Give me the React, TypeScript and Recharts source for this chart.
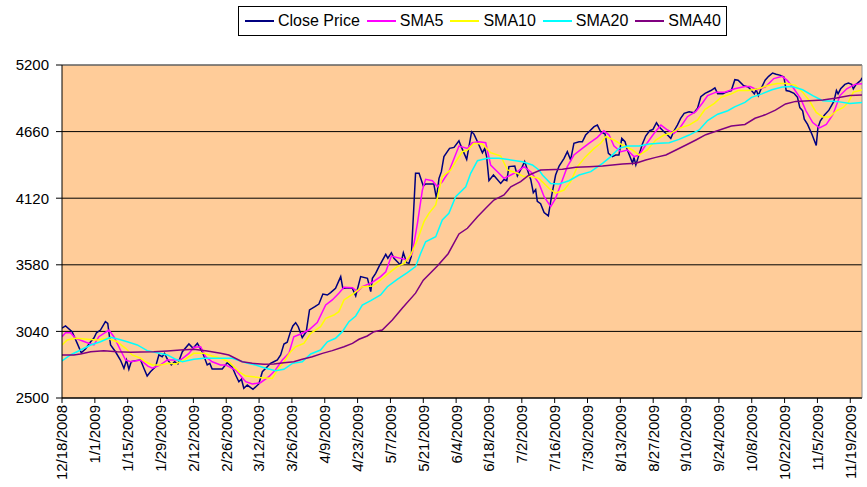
import { LineChart, Line, XAxis, YAxis, CartesianGrid, Legend, ReferenceLine } from 'recharts';

// x = calendar days after 12/18/2008, y = index level
const closePrice: [number, number][] = [
  [0, 3067], [1.5, 3084], [4.3, 3038], [6.5, 2943], [8.2, 2867], [10, 2897], [12.2, 2956], [13.6, 2986],
  [14.7, 3029], [16.4, 3051], [18.5, 3119], [19.5, 3105], [20.7, 2930], [22.8, 2875], [24.9, 2808], [26.4, 2741],
  [27.5, 2808], [28.5, 2733], [29.5, 2794], [31.3, 2803], [33.5, 2808], [34.9, 2741], [36.3, 2678], [37.7, 2713],
  [39.9, 2754], [41.3, 2849], [42.7, 2835], [43.7, 2862], [45.1, 2808], [46.6, 2768], [48, 2794], [49.4, 2776],
  [51.3, 2875], [54.1, 2938], [55.9, 2903], [57.7, 2943], [59.8, 2875], [61.9, 2768], [63, 2781], [64, 2735],
  [68.3, 2735], [70.4, 2786], [72.6, 2749], [74, 2686], [75.4, 2632], [76.5, 2652], [77.5, 2579], [79, 2605],
  [81.4, 2570], [83.9, 2614], [85.4, 2713], [87.5, 2754], [88.9, 2781], [90.3, 2794], [91.8, 2808], [93.2, 2849],
  [94.6, 2938], [96, 2952], [97.4, 3038], [98.4, 3084], [99.6, 3111], [100.7, 3078], [102.4, 2989], [104.1, 3038],
  [105.5, 3214], [107.8, 3240], [109.5, 3262], [111.2, 3343], [113.1, 3335], [114.5, 3354], [116.6, 3389], [118.8, 3484],
  [119.7, 3389], [122.3, 3394], [123.8, 3389], [125.2, 3327], [127.3, 3484], [130.2, 3470], [131.6, 3362], [132.3, 3470],
  [133.7, 3511], [135.1, 3565], [138, 3665], [138.9, 3633], [140.4, 3678], [141.5, 3633], [144.3, 3578], [145.5, 3678],
  [146.9, 3597], [147.9, 3592], [148.9, 3649], [150.7, 4322], [152.2, 4322], [154, 4219], [155, 4235], [158.5, 4235],
  [159.6, 4119], [160.7, 4281], [161.7, 4335], [162.8, 4457], [165.2, 4524], [167.1, 4532], [169.2, 4586], [169.9, 4550],
  [172.5, 4435], [174.6, 4659], [175.6, 4640], [177.3, 4570], [179.2, 4489], [180.2, 4524], [181, 4457], [182, 4262],
  [183.9, 4308], [187, 4240], [188.4, 4272], [189.6, 4262], [190.5, 4376], [193, 4381], [194.1, 4300], [196.2, 4376],
  [197.2, 4418], [198.4, 4349], [199.8, 4272], [200.9, 4165], [201.9, 4190], [202.6, 4095], [204, 4075], [205.5, 4003],
  [207.3, 3976], [208.7, 4138], [210.4, 4308], [211.9, 4381], [214, 4443], [215.4, 4497], [216.8, 4430], [218.2, 4565],
  [220.4, 4578], [221.8, 4578], [223.2, 4632], [224.6, 4659], [226.8, 4700], [228.2, 4713], [229.6, 4659], [231.5, 4640],
  [232.9, 4484], [234.6, 4457], [236, 4470], [237.4, 4470], [238.6, 4605], [240, 4578], [241, 4511], [242, 4462],
  [243.2, 4403], [243.8, 4451], [244.6, 4389], [245.7, 4457], [247.4, 4560], [248.8, 4624], [250.5, 4667], [251.9, 4678],
  [253.4, 4732], [254.5, 4700], [256.2, 4667], [258.1, 4632], [259.5, 4605], [260.9, 4667], [262.3, 4713], [263.7, 4767],
  [265.2, 4808], [267.3, 4821], [269.4, 4813], [270.9, 4849], [272.3, 4943], [274.1, 4970], [276.6, 4993], [278.3, 5015],
  [279.5, 4966], [281.7, 4966], [283.1, 4980], [285.3, 4993], [286.8, 5081], [288.2, 5076], [290.4, 5035], [292.5, 5021],
  [293.9, 4993], [295.1, 4966], [295.9, 4999], [296.8, 4952], [298.3, 5021], [299.7, 5076], [301.2, 5108], [302.9, 5135],
  [304.4, 5125], [306.3, 5116], [307.7, 5103], [308.7, 4993], [310.1, 4987], [312, 4971], [313.5, 4938], [314.5, 4855],
  [315.7, 4829], [316.4, 4760], [317.8, 4718], [319.7, 4636], [321.5, 4548], [322.2, 4690], [323.2, 4746], [325, 4795],
  [326.9, 4834], [329, 4905], [330.1, 4993], [330.8, 4966], [331.9, 5007], [333.7, 5043], [335.2, 5053], [336.6, 5043],
  [337.3, 5007], [338.5, 5043], [340.5, 5076], [341, 5097],
];

const sma5: [number, number][] = [
  [0, 2997], [1.5, 3029], [3.6, 3029], [5.8, 2984], [10.5, 2950], [13.6, 2930], [15.7, 2997], [20, 3051],
  [22.1, 2997], [24.9, 2889], [27.1, 2808], [29.2, 2794], [33.5, 2808], [36.6, 2759], [38.5, 2741], [42, 2768],
  [44.9, 2808], [50.5, 2808], [54.1, 2862], [56.2, 2911], [59.1, 2916], [61.2, 2835], [64, 2794], [67.6, 2768],
  [69.7, 2768], [74, 2727], [78.3, 2632], [81.1, 2614], [84.6, 2624], [88.2, 2673], [91, 2727], [93.9, 2808],
  [96.7, 2862], [98.8, 2997], [101.7, 3019], [105.2, 3051], [108.8, 3111], [112.4, 3254], [115.2, 3295], [118, 3349],
  [120.2, 3398], [123.8, 3394], [125.9, 3362], [128, 3402], [131.6, 3430], [135.8, 3484], [138, 3524], [140.4, 3651],
  [144.3, 3632], [147.2, 3619], [149.3, 3673], [151.5, 3916], [153.6, 4186], [155, 4273], [157.9, 4262], [160, 4213],
  [162.1, 4254], [164.9, 4335], [169.2, 4543], [172.8, 4524], [174.9, 4570], [177.7, 4578], [180.6, 4570], [182.7, 4389],
  [185.6, 4335], [188.4, 4281], [191.3, 4308], [194.1, 4335], [196.9, 4376], [199.8, 4335], [203.3, 4240], [205.5, 4132],
  [208.3, 4052], [210.4, 4119], [213.3, 4268], [215.4, 4376], [218.2, 4470], [221.8, 4524], [224.6, 4565], [228.2, 4613],
  [231, 4667], [233.2, 4632], [235.3, 4543], [238.2, 4497], [241, 4511], [243.8, 4457], [246, 4470], [248.8, 4551],
  [252.4, 4646], [255.3, 4713], [258.1, 4673], [260.9, 4646], [263.7, 4700], [266.6, 4781], [270.2, 4824], [273, 4892],
  [275.2, 4952], [278.8, 4980], [282.4, 4980], [286.7, 5007], [291.1, 5026], [293.3, 5026], [296.1, 4999], [299.7, 5021],
  [303.4, 5090], [307, 5108], [309.1, 5076], [312, 5007], [314.9, 4925], [317.1, 4829], [320, 4733], [322.9, 4690],
  [325.8, 4718], [328.7, 4801], [331.6, 4952], [334.5, 5007], [338, 5043], [341, 5049],
];

const sma10: [number, number][] = [
  [0, 2930], [2.2, 2970], [5.8, 2984], [10.7, 2976], [15, 2970], [19.3, 2984], [23.5, 2956], [27.1, 2903],
  [29.9, 2849], [33.5, 2822], [35.6, 2794], [38.5, 2768], [42, 2768], [45.5, 2781], [48.4, 2776], [51.9, 2808],
  [56.2, 2862], [60.5, 2862], [64, 2841], [67.6, 2822], [71.1, 2794], [75.4, 2713], [78.3, 2678], [83.9, 2667],
  [89.6, 2659], [91.8, 2727], [94.6, 2794], [97.4, 2875], [99.6, 2916], [103.1, 2943], [106, 3024], [110.2, 3078],
  [112.4, 3146], [115.9, 3173], [118, 3200], [120.2, 3295], [124.4, 3349], [128, 3402], [132.3, 3408], [135.8, 3457],
  [140.1, 3524], [142.9, 3565], [145.8, 3592], [148.6, 3659], [151.5, 3781], [154.3, 3930], [156.4, 3997], [159.3, 4065],
  [160.7, 4186], [162.1, 4295], [165.7, 4349], [167.8, 4416], [170.7, 4497], [172.8, 4511], [175.6, 4565], [179.2, 4560],
  [182.7, 4489], [187, 4462], [189.9, 4349], [194.1, 4322], [196.9, 4295], [199.8, 4295], [203.3, 4281], [207.6, 4200],
  [210.4, 4160], [214, 4186], [216.8, 4254], [219.7, 4376], [223.2, 4457], [226.8, 4524], [229.6, 4565], [231.8, 4619],
  [235.3, 4592], [238.9, 4551], [243.2, 4511], [246, 4470], [249.5, 4511], [253.1, 4592], [256.6, 4632], [259.5, 4646],
  [263, 4686], [267.3, 4713], [270.9, 4754], [274.1, 4840], [278.1, 4889], [280.9, 4938], [285.3, 4966], [288.2, 4993],
  [292.5, 4993], [296.8, 5007], [301.2, 5035], [304.8, 5049], [309.1, 5049], [312.7, 5035], [315.7, 4980], [318.6, 4910],
  [321.5, 4815], [324.3, 4778], [327.2, 4778], [330.1, 4829], [333, 4856], [335.2, 4897], [337.3, 4980], [340.2, 4993],
  [341, 5000],
];

const sma20: [number, number][] = [
  [0, 2800], [3.6, 2849], [7.9, 2889], [12.2, 2930], [16.4, 2956], [20.7, 2992], [24.2, 2976], [27.8, 2956],
  [32.1, 2930], [36.3, 2884], [40.6, 2867], [44.9, 2849], [48.4, 2814], [51.3, 2794], [56.2, 2814], [60.5, 2822],
  [67.6, 2822], [72.6, 2822], [78.3, 2786], [82.5, 2768], [86.8, 2741], [91, 2722], [94.6, 2733], [98.2, 2781],
  [102.4, 2794], [106, 2857], [110.2, 2889], [113.1, 2956], [116.6, 2984], [119.5, 3038], [122.3, 3119], [125.2, 3165],
  [128, 3254], [131.6, 3290], [135.8, 3335], [138.7, 3402], [142.9, 3462], [147.2, 3516], [150.7, 3565], [152.9, 3673],
  [155, 3767], [159.3, 3808], [162.1, 3943], [164.9, 3997], [167.8, 4132], [172.1, 4213], [174.2, 4322], [177.1, 4424],
  [181.3, 4443], [186.3, 4443], [191.3, 4430], [196.2, 4416], [200.5, 4389], [203.3, 4349], [204.8, 4308], [208.3, 4240],
  [211.9, 4235], [216.1, 4262], [220.4, 4308], [225.4, 4335], [230.4, 4403], [233.9, 4457], [237.4, 4524], [241, 4543],
  [246, 4543], [250.2, 4560], [254.5, 4565], [258.8, 4570], [263, 4597], [267.3, 4632], [271.6, 4673], [275.2, 4750],
  [279.5, 4801], [283.8, 4829], [286.7, 4861], [291.1, 4897], [293.9, 4938], [298.3, 4966], [302.6, 4999], [307, 5021],
  [311.3, 5026], [315.7, 4999], [320, 4952], [324.3, 4910], [330.1, 4905], [335.9, 4888], [341, 4895],
];

const sma40: [number, number][] = [
  [0, 2849], [5, 2849], [7.9, 2857], [12.2, 2875], [17.8, 2884], [23.5, 2875], [29.2, 2870], [33.5, 2873],
  [39.1, 2875], [44.9, 2881], [50.5, 2889], [56.2, 2895], [61.9, 2881], [67.6, 2862], [71.1, 2849], [76.8, 2794],
  [81.1, 2781], [86.1, 2773], [90.3, 2776], [94.6, 2786], [98.8, 2794], [102.4, 2814], [106.7, 2835], [111, 2862],
  [115.2, 2884], [120.2, 2916], [123.8, 2943], [126.6, 2976], [130.1, 3003], [133, 3038], [136.5, 3051], [140.8, 3132],
  [145.1, 3230], [150.7, 3350], [154, 3455], [160, 3570], [164.6, 3670], [169.2, 3830], [172.8, 3876], [177.1, 3970],
  [180.6, 4038], [184.1, 4105], [188.4, 4146], [191.3, 4213], [195.5, 4254], [199.1, 4308], [204, 4349], [213.3, 4354],
  [219, 4370], [224.6, 4376], [230.4, 4381], [238.9, 4397], [244.6, 4403], [248.8, 4430], [253.1, 4451], [257.4, 4470],
  [261.7, 4511], [266, 4551], [270.2, 4592], [274.4, 4635], [280.9, 4677], [285.3, 4705], [291.1, 4718], [295.4, 4768],
  [299.7, 4796], [304.1, 4834], [308.4, 4884], [312.7, 4905], [318.6, 4910], [324.3, 4916], [330.1, 4932], [335.9, 4952],
  [341, 4957],
];

const tickLabels = [
  '12/18/2008', '1/1/2009', '1/15/2009', '1/29/2009', '2/12/2009', '2/26/2009', '3/12/2009', '3/26/2009',
  '4/9/2009', '4/23/2009', '5/7/2009', '5/21/2009', '6/4/2009', '6/18/2009', '7/2/2009', '7/16/2009',
  '7/30/2009', '8/13/2009', '8/27/2009', '9/10/2009', '9/24/2009', '10/8/2009', '10/22/2009', '11/5/2009',
  '11/19/2009',
];
const yTicks = [2500, 3040, 3580, 4120, 4660, 5200];

const seriesInfo = [
  { name: 'Close Price', color: '#000080', data: closePrice },
  { name: 'SMA5', color: '#FF00FF', data: sma5 },
  { name: 'SMA10', color: '#FFFF00', data: sma10 },
  { name: 'SMA20', color: '#00FFFF', data: sma20 },
  { name: 'SMA40', color: '#800080', data: sma40 },
];

const FONT = '"Liberation Sans", Arial, sans-serif';

const toUtc = (s: string) => {
  const [m, d, y] = s.split('/').map(Number);
  return Date.UTC(y, m - 1, d);
};
const dayOf = (s: string) => Math.round((toUtc(s) - toUtc(tickLabels[0])) / 86400000);
const tickDays = tickLabels.map(dayOf);
const labelByDay: Record<number, string> = {};
tickLabels.forEach((l) => (labelByDay[dayOf(l)] = l));

const DateTick = (props: any) => {
  const { x, y, payload } = props;
  return (
    <text
      transform={`translate(${x},${y}) rotate(-90)`}
      textAnchor="end"
      dy="0.36em"
      fontSize={15}
      fontFamily={FONT}
      fill="#000"
    >
      {labelByDay[payload.value]}
    </text>
  );
};

const LegendBox = () => (
  <div
    style={{
      border: '1px solid #000',
      background: '#fff',
      height: 28,
      display: 'flex',
      alignItems: 'center',
      paddingLeft: 6,
      fontFamily: FONT,
      fontSize: 16,
      color: '#000',
      whiteSpace: 'nowrap',
    }}
  >
    {seriesInfo.map((s) => (
      <div key={s.name} style={{ display: 'flex', alignItems: 'center', marginRight: 7 }}>
        <svg width={29} height={4} style={{ marginRight: 4, display: 'block' }}>
          <line x1={0} y1={2} x2={29} y2={2} stroke={s.color} strokeWidth={2} />
        </svg>
        <span>{s.name}</span>
      </div>
    ))}
  </div>
);

export default function App() {
  return (
    <div style={{ position: 'absolute', left: 0, top: 0, background: '#fff' }}>
      <LineChart width={867} height={487} margin={{ top: 65, right: 5, bottom: 0, left: 0 }}>
        <CartesianGrid horizontal vertical={false} stroke="#000" fill="#FFCC99" fillOpacity={1} />
        <XAxis
          dataKey="x"
          type="number"
          domain={[0, 341]}
          ticks={tickDays}
          interval={0}
          height={89}
          tickSize={5}
          tickMargin={2}
          tick={<DateTick />}
          axisLine={{ stroke: '#000' }}
          tickLine={{ stroke: '#000' }}
          allowDataOverflow
        />
        <YAxis
          type="number"
          domain={[2500, 5200]}
          ticks={yTicks}
          interval={0}
          width={62}
          tickSize={6}
          tickMargin={7}
          axisLine={{ stroke: '#000' }}
          tickLine={{ stroke: '#000' }}
          tick={{ fill: '#000', fontSize: 15, fontFamily: FONT }}
        />
        <ReferenceLine y={5200} stroke="#909090" />
        <ReferenceLine x={341} stroke="#909090" />
        {seriesInfo.map((s) => (
          <Line
            key={s.name}
            name={s.name}
            data={s.data.map(([x, v]) => ({ x, v }))}
            dataKey="v"
            type="linear"
            stroke={s.color}
            strokeWidth={1.5}
            dot={false}
            activeDot={false}
            isAnimationActive={false}
          />
        ))}
        <Legend
          layout="horizontal"
          verticalAlign="middle"
          align="center"
          wrapperStyle={{ top: 6, left: 238, width: 489 }}
          content={() => <LegendBox />}
        />
      </LineChart>
    </div>
  );
}
